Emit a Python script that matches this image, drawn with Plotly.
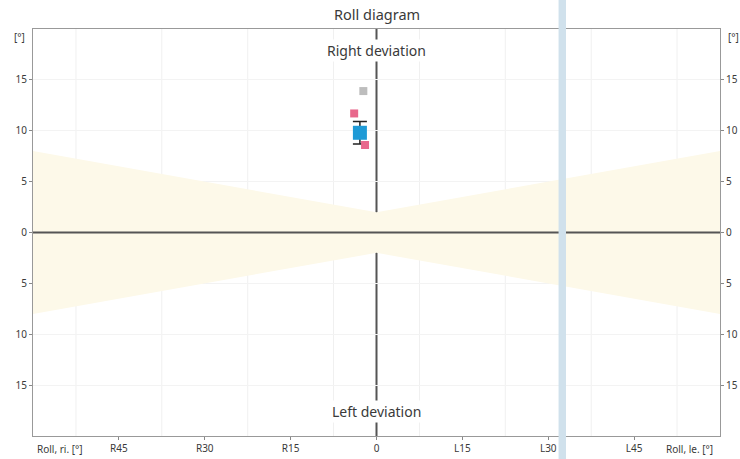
import plotly.graph_objects as go

# Roll angle axis: negative = right (R), positive = left (L)
x_ticks = [-45, -30, -15, 0, 15, 30, 45]
x_tick_text = ["R45", "R30", "R15", "0", "L15", "L30", "L45"]
x_grid = [-52.5, -37.5, -22.5, -7.5, 7.5, 22.5, 37.5, 52.5]

y_ticks = [-15, -10, -5, 0, 5, 10, 15]
y_tick_text = ["15", "10", "5", "0", "5", "10", "15"]

# Tolerance band (half-width in degrees) across roll angle
band_x = [-60, 0, 60]
band_half = [8, 2, 8]

# Measurements: roll [deg], deviation [deg]
prev_roll = [-2.3]
prev_dev = [13.9]

single_roll = [-3.9, -2.0]
single_dev = [11.7, 8.6]

mean_roll = [-2.9]
mean_dev = [9.8]
mean_err = [1.1]

FONT = "Noto Sans"

fig = go.Figure()

# tolerance band (filled bowtie)
upper = band_half
lower = [-v for v in band_half]
fig.add_trace(go.Scatter(
    x=band_x + band_x[::-1],
    y=upper + lower[::-1],
    fill="toself", fillcolor="#fdf9e9",
    line=dict(width=0), mode="lines", hoverinfo="skip", showlegend=False,
))

fig.add_trace(go.Scatter(
    x=prev_roll, y=prev_dev, mode="markers", name="Previous",
    marker=dict(symbol="square", size=8, color="#bdbdbd"),
))
fig.add_trace(go.Scatter(
    x=mean_roll, y=mean_dev, mode="markers", name="Mean",
    marker=dict(symbol="square", size=14, color="#1e9ad6"),
    error_y=dict(type="data", array=mean_err, color="#222222", thickness=1.5, width=7),
))
fig.add_trace(go.Scatter(
    x=single_roll, y=single_dev, mode="markers", name="Single",
    marker=dict(symbol="square", size=8, color="#e8688c"),
))

shapes = []
# vertical grid lines between ticks
for gx in x_grid:
    shapes.append(dict(type="line", xref="x", yref="y", x0=gx, x1=gx, y0=-20, y1=20,
                       line=dict(color="#f0f0f0", width=1), layer="below"))
# zero cross
shapes.append(dict(type="line", xref="x", yref="y", x0=-60, x1=60, y0=0, y1=0,
                   line=dict(color="#555555", width=2)))
shapes.append(dict(type="line", xref="x", yref="y", x0=0, x1=0, y0=-20, y1=20,
                   line=dict(color="#555555", width=2), layer="below"))
# light blue vertical stripe
shapes.append(dict(type="rect", xref="x", yref="paper", x0=31.8, x1=33.1, y0=-0.2, y1=1.2,
                   fillcolor="#d0e1ec", line=dict(width=0), layer="above"))
fig.update_layout(shapes=shapes)

text_col = "#3a3a3a"
annotations = [
    dict(text="Roll diagram", xref="paper", yref="paper", x=0.5, y=1, yanchor="bottom",
         yshift=3, showarrow=False, font=dict(size=14.5, color=text_col)),
    dict(text="Right deviation", xref="x", yref="y", x=0, y=17.9,
         showarrow=False, font=dict(size=14, color=text_col), bgcolor="white"),
    dict(text="Left deviation", xref="x", yref="y", x=0, y=-17.6,
         showarrow=False, font=dict(size=14, color=text_col), bgcolor="white"),
    dict(text="[°]", xref="paper", yref="y", x=0, y=19.2, xanchor="right", xshift=-6,
         showarrow=False, font=dict(size=10, color=text_col)),
    dict(text="[°]", xref="paper", yref="y", x=1, y=19.2, xanchor="left", xshift=6,
         showarrow=False, font=dict(size=10, color=text_col)),
    dict(text="Roll, ri. [°]", xref="paper", yref="paper", x=0, y=0, xanchor="left",
         yanchor="top", yshift=-4, xshift=2,
         showarrow=False, font=dict(size=10, color=text_col)),
    dict(text="Roll, le. [°]", xref="paper", yref="paper", x=1, y=0, xanchor="right",
         yanchor="top", yshift=-4, xshift=-5,
         showarrow=False, font=dict(size=10, color=text_col)),
]
fig.update_layout(annotations=annotations)

fig.update_layout(
    width=740, height=459,
    margin=dict(l=33, r=20, t=29, b=23, autoexpand=False),
    paper_bgcolor="white", plot_bgcolor="white",
    showlegend=False,
    font=dict(family=FONT, size=10, color=text_col),
    xaxis=dict(
        range=[-60, 60], tickvals=x_ticks, ticktext=x_tick_text,
        showgrid=False, zeroline=False, automargin=False,
        ticks="outside", ticklen=3, tickcolor="#888",
        showline=True, linecolor="#999", linewidth=1, mirror=True,
        tickfont=dict(size=10, color=text_col),
    ),
    yaxis=dict(
        range=[-20, 20], tickvals=y_ticks, ticktext=y_tick_text,
        showgrid=True, gridcolor="#f3f3f3", zeroline=False, automargin=False,
        ticks="outside", ticklen=3, tickcolor="#888",
        showline=True, linecolor="#999", linewidth=1, mirror=True,
        tickfont=dict(size=10, color=text_col),
    ),
    yaxis2=dict(
        range=[-20, 20], tickvals=y_ticks, ticktext=y_tick_text,
        overlaying="y", side="right", showgrid=False, zeroline=False, automargin=False,
        ticks="outside", ticklen=3, tickcolor="#888",
        tickfont=dict(size=10, color=text_col),
    ),
)

# invisible trace to activate the right-hand axis
fig.add_trace(go.Scatter(x=[None], y=[None], yaxis="y2", showlegend=False, hoverinfo="skip"))

fig.write_html("out.html")
